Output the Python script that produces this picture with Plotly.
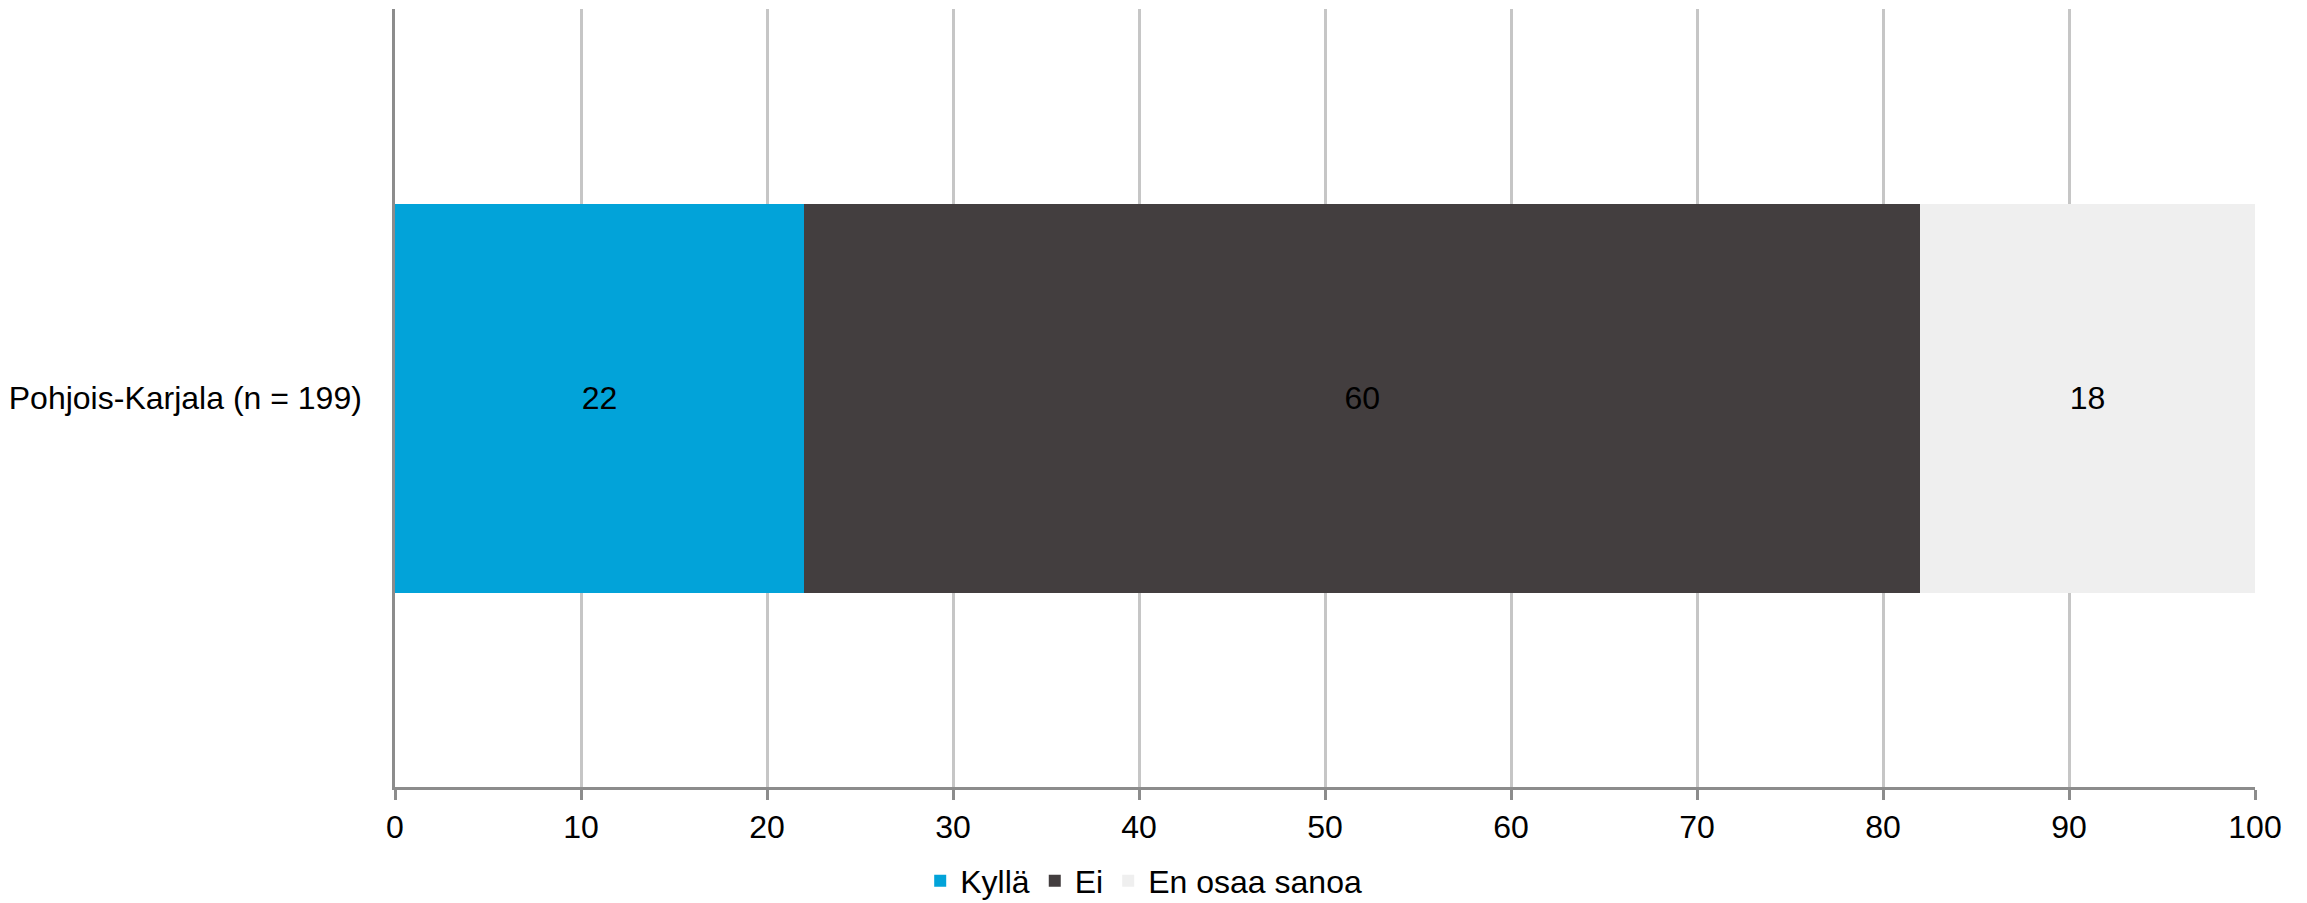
import plotly.graph_objects as go

categories = ["Pohjois-Karjala (n = 199)"]
series_names = ["Kyllä", "Ei", "En osaa sanoa"]
kylla = [22]
ei = [60]
eos = [18]
x_ticks = [0, 10, 20, 30, 40, 50, 60, 70, 80, 90, 100]

colors = ["#02A3D9", "#433E3F", "#EFEFEF"]
values = [kylla, ei, eos]

FONT = "Liberation Sans, Arial, sans-serif"

fig = go.Figure()
for name, vals, col in zip(series_names, values, colors):
    fig.add_trace(go.Bar(
        y=categories, x=vals, name=name, orientation="h",
        marker=dict(color=col, line=dict(width=0)),
        text=[str(v) for v in vals], textposition="inside",
        insidetextanchor="middle", textangle=0,
        textfont=dict(family=FONT, size=32, color="#000000"),
        constraintext="none",
    ))

# page body has an 8px default margin, so the figure is 8px smaller
W, H = 2299, 895
fig.update_layout(
    width=W, height=H,
    margin=dict(l=387, r=52, t=1, b=116, autoexpand=False),
    barmode="stack", bargap=0.5,
    paper_bgcolor="white", plot_bgcolor="white",
    font=dict(family=FONT, size=32, color="#000000"),
    showlegend=True,
    legend=dict(
        orientation="h", xref="container", yref="container",
        x=0.494, xanchor="center", y=22 / H, yanchor="middle",
        font=dict(family=FONT, size=32, color="#000000"),
        itemwidth=30, tracegroupgap=0, traceorder="normal",
    ),
)

fig.update_xaxes(
    range=[0, 100], tickvals=x_ticks, ticktext=[str(t) for t in x_ticks],
    showgrid=True, gridcolor="#C6C6C6", gridwidth=2.5,
    showline=True, linecolor="#8C8C8C", linewidth=2.5,
    ticks="outside", ticklen=10, tickwidth=2.5, tickcolor="#8C8C8C",
    zeroline=False, fixedrange=True,
    tickfont=dict(family=FONT, size=32, color="#000000"),
)
fig.update_yaxes(
    showgrid=False, showline=True, linecolor="#8C8C8C", linewidth=2.5,
    ticks="", ticklabelstandoff=24, zeroline=False,
    tickfont=dict(family=FONT, size=32, color="#000000"),
)

fig.write_html("out.html")
